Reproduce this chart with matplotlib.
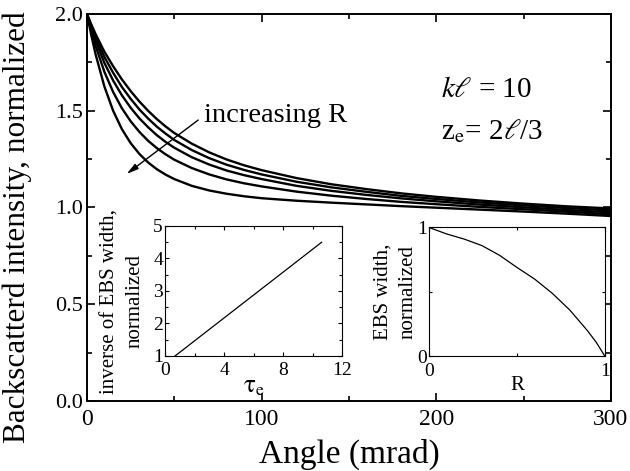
import matplotlib
matplotlib.use("Agg")
import matplotlib.pyplot as plt
from matplotlib.ticker import MultipleLocator, FormatStrFormatter

# main panel: backscattered intensity vs angle (mrad), five reflectivities R
angle = [0, 2.5, 5, 10, 15, 20, 25, 30, 35, 40, 45, 50, 60, 70, 80, 90, 100,
         120, 140, 160, 180, 200, 225, 250, 275, 300]
curve_r1 = [2.0, 1.946, 1.895, 1.805, 1.73, 1.662, 1.602, 1.548, 1.50, 1.457, 1.419, 1.385, 1.33,
            1.285, 1.248, 1.218, 1.193, 1.152, 1.12, 1.095, 1.073, 1.055, 1.036, 1.02, 1.006, 0.995]
curve_r2 = [2.0, 1.938, 1.879, 1.778, 1.696, 1.623, 1.562, 1.507, 1.46, 1.418, 1.382, 1.349, 1.297,
            1.255, 1.221, 1.194, 1.171, 1.133, 1.104, 1.081, 1.060, 1.044, 1.026, 1.011, 0.997, 0.985]
curve_r3 = [2.0, 1.929, 1.861, 1.747, 1.656, 1.580, 1.516, 1.461, 1.415, 1.374, 1.339, 1.309, 1.260,
            1.222, 1.191, 1.167, 1.147, 1.112, 1.086, 1.065, 1.047, 1.032, 1.015, 1.001, 0.987, 0.975]
curve_r4 = [2.0, 1.915, 1.834, 1.701, 1.597, 1.513, 1.446, 1.391, 1.345, 1.307, 1.275, 1.247, 1.204,
            1.171, 1.145, 1.125, 1.109, 1.082, 1.061, 1.044, 1.029, 1.017, 1.003, 0.991, 0.978, 0.965]
curve_r5 = [2.0, 1.89, 1.79, 1.625, 1.50, 1.405, 1.333, 1.277, 1.233, 1.198, 1.170, 1.147, 1.112,
            1.088, 1.071, 1.058, 1.048, 1.035, 1.025, 1.016, 1.007, 0.999, 0.989, 0.979, 0.968, 0.956]

# inset 1: inverse EBS width vs tau_e
tau_e = [0.68, 10.62]
inv_width = [1.0, 4.50]

# inset 2: EBS width vs R
refl = [0.0, 0.1, 0.2, 0.3, 0.4, 0.5, 0.6, 0.7, 0.8, 0.9, 0.95, 1.0]
ebs_width = [1.0, 0.95, 0.91, 0.86, 0.785, 0.69, 0.60, 0.49, 0.36, 0.20, 0.11, 0.0]

plt.rcParams["font.family"] = ["Liberation Serif", "DejaVu Serif"]
plt.rcParams["mathtext.fontset"] = "stix"

fig = plt.figure(figsize=(6.3, 4.71), dpi=100)
ax = fig.add_axes([0.138, 0.1486, 0.8317, 0.8217])

for ys in [curve_r1, curve_r2, curve_r3, curve_r4, curve_r5]:
    ax.plot(angle, ys, color="black", lw=1.7)

ax.set_xlim(0, 300)
ax.set_ylim(0, 2.0)
ax.xaxis.set_major_locator(MultipleLocator(100))
ax.xaxis.set_minor_locator(MultipleLocator(50))
ax.yaxis.set_major_locator(MultipleLocator(0.5))
ax.yaxis.set_minor_locator(MultipleLocator(0.25))
ax.yaxis.set_major_formatter(FormatStrFormatter("%.1f"))
ax.tick_params(which="both", direction="in", top=True, right=True, width=1.2)
ax.tick_params(which="major", length=6)
ax.tick_params(which="minor", length=3.5)
ax.tick_params(axis="x", labelsize=17, pad=6)
ax.tick_params(axis="y", labelsize=16, pad=3)
for s in ax.spines.values():
    s.set_linewidth(1.4)

ax.set_xlabel("Angle (mrad)", fontsize=24, labelpad=6)
ax.set_ylabel("Backscatterd intensity, normalized", fontsize=22.5)
ax.yaxis.set_label_coords(-0.105, 0.45)

ax.annotate("", xy=(22.7, 1.173), xytext=(63.7, 1.452),
            arrowprops=dict(arrowstyle="-|>,head_length=0.7,head_width=0.18",
                            color="black", lw=1.0, shrinkA=0, shrinkB=0))
ax.text(67, 1.478, "increasing R", fontsize=20.5, va="center", ha="left")
ax.text(203, 1.573, r"$k\ell$ = 10", fontsize=21, va="baseline", ha="left")
ax.text(203, 1.352, r"z$_{\mathrm{e}}$= 2$\ell$/3", fontsize=21, va="baseline", ha="left")

# inset 1
ax1 = fig.add_axes([0.2619, 0.2442, 0.281, 0.276])
ax1.plot(tau_e, inv_width, color="black", lw=0.9)
ax1.set_xlim(0, 12)
ax1.set_ylim(1, 5)
ax1.xaxis.set_major_locator(MultipleLocator(4))
ax1.xaxis.set_minor_locator(MultipleLocator(2))
ax1.yaxis.set_major_locator(MultipleLocator(1))
ax1.yaxis.set_minor_locator(MultipleLocator(0.5))
ax1.tick_params(which="both", direction="in", top=True, right=True, labelsize=14, width=0.8)
ax1.tick_params(axis="x", pad=4.5)
ax1.tick_params(axis="y", pad=1.5)
ax1.tick_params(which="major", length=3)
ax1.tick_params(which="minor", length=2)
ax1.set_xlabel(r"$\mathrm{\tau_e}$", fontsize=18, labelpad=-2)
ax1.set_ylabel("inverse of EBS width,\nnormalized", fontsize=15, linespacing=1.4)
ax1.yaxis.set_label_coords(-0.115, 0.42)

# inset 2
ax2 = fig.add_axes([0.681, 0.2431, 0.2794, 0.2739])
ax2.plot(refl, ebs_width, color="black", lw=0.9)
ax2.set_xlim(0, 1)
ax2.set_ylim(0, 1)
ax2.xaxis.set_major_locator(MultipleLocator(1))
ax2.xaxis.set_minor_locator(MultipleLocator(0.5))
ax2.yaxis.set_major_locator(MultipleLocator(1))
ax2.yaxis.set_minor_locator(MultipleLocator(0.5))
ax2.tick_params(which="both", direction="in", top=True, right=True, labelsize=14, width=0.8)
ax2.tick_params(axis="x", pad=4.5)
ax2.tick_params(axis="y", pad=1.5)
ax2.tick_params(which="major", length=3)
ax2.tick_params(which="minor", length=2)
ax2.set_xlabel("R", fontsize=15, labelpad=-3)
ax2.set_ylabel("EBS width,\nnormalized", fontsize=15, linespacing=1.4)
ax2.yaxis.set_label_coords(-0.068, 0.5)

fig.savefig("out.png", dpi=100)
